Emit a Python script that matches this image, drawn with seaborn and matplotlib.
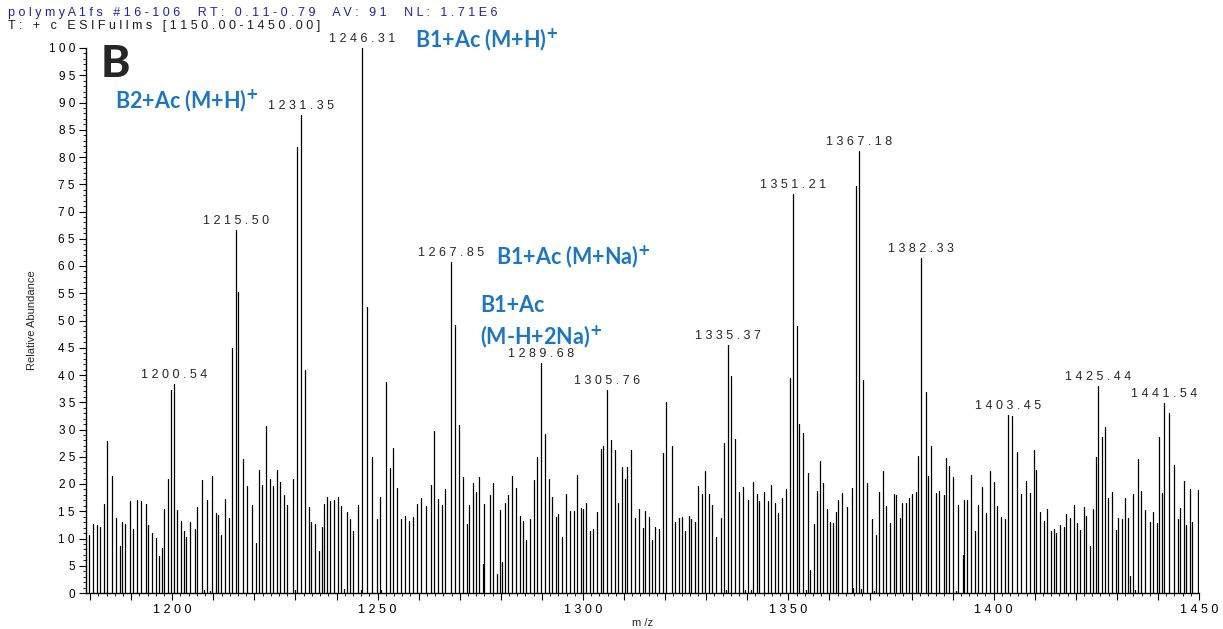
import numpy as np
import pandas as pd
import matplotlib
matplotlib.use("Agg")
import matplotlib.pyplot as plt
import seaborn as sns
from matplotlib.ticker import FixedLocator, MultipleLocator

# stick spectrum: m/z and relative abundance
mz = [
    1179.7, 1180.8, 1181.7, 1182.5, 1183.4, 1184.1, 1185.3, 1186.2, 1187.2, 1187.7,
    1188.6, 1189.6, 1190.5, 1191.4, 1192.4, 1193.5, 1194.2, 1195.0, 1196.0, 1196.7,
    1197.6, 1198.1, 1199.0, 1199.7, 1200.54, 1201.2, 1202.1, 1202.8, 1203.3, 1204.3,
    1205.5, 1206.1, 1207.3, 1207.8, 1208.5, 1209.1, 1209.7, 1210.7, 1211.2, 1211.9,
    1212.9, 1213.9, 1214.6, 1215.50, 1216.1, 1217.3, 1218.3, 1219.5, 1220.4, 1221.1,
    1221.9, 1222.8, 1223.7, 1224.6, 1225.4, 1226.3, 1227.1, 1228.0, 1229.3, 1229.8,
    1230.4, 1231.35, 1232.3, 1233.2, 1233.9, 1234.8, 1235.8, 1236.4, 1237.0, 1237.6,
    1238.4, 1239.4, 1240.3, 1241.2, 1241.9, 1242.5, 1243.3, 1244.0, 1245.2,
    1245.9, 1246.31, 1247.4, 1248.6, 1249.8, 1250.6, 1250.9, 1252.0, 1253.1, 1253.7,
    1254.7, 1255.7, 1256.7, 1257.7, 1258.6, 1259.6, 1260.5, 1261.7, 1262.9, 1263.7,
    1264.7, 1265.7, 1266.5, 1267.85, 1268.8, 1269.9, 1270.8, 1271.8, 1272.3, 1273.2,
    1273.9, 1274.8, 1275.7, 1276.0, 1277.3, 1278.2,
    1279.1, 1279.7, 1280.4, 1280.9, 1281.8, 1282.7, 1283.7, 1284.6, 1285.4, 1286.1,
    1287.0, 1288.0, 1288.8, 1289.68, 1290.7, 1291.7, 1292.5, 1293.4, 1294.0, 1295.0,
    1295.9, 1296.9, 1297.7, 1298.6, 1299.5, 1300.1, 1300.8, 1301.6, 1302.5, 1303.4,
    1304.4, 1305.0, 1305.76, 1306.8, 1307.7, 1308.6, 1309.6, 1310.2, 1310.8,
    1311.7, 1312.7, 1313.6, 1314.5, 1315.1, 1316.0, 1316.9, 1317.6, 1318.5, 1319.4,
    1320.3, 1321.6, 1322.4, 1323.3, 1324.2, 1324.9, 1325.8, 1326.4, 1327.3, 1328.0,
    1328.9, 1329.8, 1330.7, 1331.5, 1332.5, 1333.5, 1334.4, 1334.8, 1335.37, 1336.1,
    1337.1, 1338.0, 1338.9, 1339.5, 1340.2, 1340.8, 1341.4, 1342.3, 1342.9, 1344.1,
    1345.0, 1345.9, 1346.8, 1347.5, 1348.4, 1349.5, 1350.4, 1351.21, 1352.0, 1352.7,
    1353.6, 1354.2, 1354.8, 1355.3, 1356.3, 1356.9, 1357.8, 1358.5, 1359.4, 1360.2,
    1360.9, 1361.5, 1362.2, 1363.0, 1364.2, 1365.5, 1365.8, 1366.47, 1367.18, 1367.8,
    1368.3, 1369.2, 1370.4, 1370.8, 1371.3, 1372.2, 1373.1, 1373.7, 1374.7, 1375.7,
    1376.2, 1377.1,
    1377.8, 1378.6, 1379.4, 1380.1, 1381.1, 1381.6, 1382.33, 1383.5, 1384.1, 1384.8,
    1385.9, 1386.8, 1387.8, 1388.4, 1389.2, 1390.2, 1390.9, 1391.4, 1392.6, 1392.9,
    1393.6, 1394.5, 1395.4, 1396.3, 1397.2, 1398.1, 1399.1, 1400.0, 1400.9, 1401.8,
    1402.7, 1403.45, 1404.4, 1405.8, 1406.7, 1407.8, 1408.9, 1409.8,
    1410.4, 1411.3, 1412.2, 1413.1, 1414.0, 1414.6, 1415.2, 1416.2, 1417.1, 1417.7,
    1418.6, 1419.5, 1420.4, 1421.1, 1422.0, 1422.6, 1423.5, 1424.2, 1424.8, 1425.44,
    1426.3, 1427.2, 1427.8, 1428.7, 1429.7, 1430.3, 1431.2, 1432.0, 1432.6, 1433.3,
    1433.9, 1434.4, 1435.1, 1435.9, 1436.9, 1438.1, 1438.7, 1439.7, 1440.2, 1440.9,
    1441.54, 1442.7, 1443.9, 1444.9, 1445.4, 1446.4, 1446.9, 1447.9, 1448.4, 1449.7,
]
abundance = [
    10.6, 12.7, 12.5, 12.2, 16.4, 27.8, 21.4, 13.7, 8.7, 13.1,
    12.7, 16.8, 11.8, 17.0, 16.8, 16.4, 12.4, 11.0, 10.1, 6.7,
    8.3, 15.5, 21.0, 37.3, 38.4, 15.3, 13.2, 11.3, 10.3, 13.0,
    11.7, 15.7, 20.8, 0.6, 17.1, 0.4, 21.5, 14.7, 14.3, 10.6,
    17.2, 13.8, 45.0, 66.6, 55.2, 24.5, 19.7, 16.2, 9.1, 22.6,
    19.8, 30.6, 20.9, 19.6, 22.6, 20.4, 17.9, 16.2, 21.0, 0.6,
    81.8, 87.7, 40.9, 15.7, 13.1, 12.7, 7.7, 12.1, 16.4, 17.6,
    16.9, 17.1, 17.7, 15.9, 0.8, 14.9, 13.5, 11.4, 16.2,
    0.6, 100.0, 52.5, 25.0, 13.6, 17.7, 0.6, 38.7, 22.9, 26.6,
    19.3, 13.5, 14.1, 13.3, 13.9, 16.4, 17.5, 16.0, 19.9, 29.7,
    17.2, 16.2, 19.1, 60.7, 49.2, 30.9, 21.2, 12.7, 16.1, 20.2,
    18.5, 21.3, 5.4, 16.4, 18.0, 20.1,
    3.4, 15.3, 5.7, 16.6, 17.9, 21.5, 19.2, 14.2, 13.3, 9.7,
    13.5, 20.8, 25.0, 42.2, 29.2, 21.0, 17.7, 13.9, 14.5, 10.3,
    18.2, 15.0, 15.0, 21.7, 15.6, 15.5, 16.6, 11.4, 11.7, 14.9,
    26.5, 27.0, 37.3, 28.1, 26.2, 16.6, 23.1, 21.0, 23.2,
    26.2, 13.7, 15.5, 12.0, 15.0, 14.0, 9.8, 12.2, 11.8, 25.6,
    35.1, 27.0, 13.1, 13.8, 14.0, 11.3, 14.2, 13.5, 13.0, 19.7,
    18.2, 22.4, 18.1, 16.1, 10.3, 13.8, 27.6, 0.5, 45.5, 39.9,
    28.3, 18.5, 19.4, 0.6, 17.1, 0.6, 20.4, 18.2, 16.8, 18.6,
    16.9, 19.8, 16.5, 14.7, 17.5, 19.1, 39.4, 73.2, 49.0, 31.0,
    29.3, 0.5, 22.0, 4.3, 12.7, 18.8, 24.3, 20.2, 15.5, 13.0,
    12.8, 14.9, 17.1, 18.3, 15.7, 19.3, 1.0, 74.7, 81.1, 0.7,
    39.1, 20.1, 13.6, 0.3, 10.7, 18.5, 22.4, 16.0, 12.9, 18.2,
    17.9, 13.7,
    16.5, 16.5, 17.5, 18.1, 18.6, 25.2, 61.5, 36.9, 21.5, 26.9,
    18.3, 18.8, 18.0, 24.8, 23.3, 21.3, 0.4, 16.2, 6.9, 17.0,
    17.0, 21.7, 11.4, 16.2, 19.4, 14.7, 22.4, 20.4, 16.0, 14.0,
    13.5, 32.7, 32.4, 25.9, 18.1, 20.5, 18.4, 26.2,
    22.6, 14.8, 13.3, 15.5, 11.3, 11.7, 11.1, 12.4, 12.1, 14.5,
    13.7, 16.2, 12.9, 11.6, 15.7, 14.2, 8.7, 15.5, 25.0, 38.0,
    28.7, 30.5, 17.4, 18.6, 11.6, 13.8, 13.6, 17.4, 13.8, 3.2,
    18.1, 0.5, 24.5, 18.8, 15.3, 13.1, 14.8, 12.8, 28.7, 18.3,
    34.9, 33.1, 23.4, 13.6, 15.6, 20.6, 12.4, 19.0, 13.0, 18.9,
]

# peaks that carry their m/z label
peak_labels = ["1200.54", "1215.50", "1231.35", "1246.31", "1267.85", "1289.68",
               "1305.76", "1335.37", "1351.21", "1367.18", "1382.33", "1403.45",
               "1425.44", "1441.54"]

header_1 = "polymyA1fs #16-106  RT: 0.11-0.79  AV: 91  NL: 1.71E6"
header_2 = "T: + c ESIFullms [1150.00-1450.00]"

BLUE = "#1c77c3"
W, H = 1223, 629


def spaced(s):
    return " ".join(s)


sns.set_style("ticks")
plt.rcParams["font.family"] = ["Liberation Sans", "DejaVu Sans"]

# long table: every stick is a unit with a point at 0 and one at its top
sticks = pd.DataFrame({
    "peak": np.repeat(np.arange(len(mz)), 2),
    "mz": np.repeat(mz, 2),
    "abundance": np.column_stack([np.zeros(len(abundance)), abundance]).ravel(),
})

fig = plt.figure(figsize=(W / 100, H / 100), dpi=100)
ax = fig.add_axes([86 / W, 36 / H, 1113 / W, 545 / H])

sns.lineplot(data=sticks, x="mz", y="abundance", units="peak", estimator=None,
             color="black", lw=0.9, legend=False, ax=ax)

ax.set_xlim(1179, 1450)
ax.set_ylim(0, 100)
sns.despine(ax=ax)
for side in ("left", "bottom"):
    ax.spines[side].set_linewidth(1.0)
    ax.spines[side].set_color("black")

yt = list(range(0, 101, 5))
ax.yaxis.set_major_locator(FixedLocator(yt))
ax.set_yticklabels([spaced(str(v)) for v in yt])
ax.yaxis.set_minor_locator(MultipleLocator(1))

xt = list(range(1180, 1451, 10))
ax.xaxis.set_major_locator(FixedLocator(xt))
ax.set_xticklabels([spaced(str(v)) if v % 50 == 0 else "" for v in xt])
ax.xaxis.set_minor_locator(MultipleLocator(2))

ax.tick_params(which="major", length=5, width=0.8, labelsize=8.5, pad=3, colors="black")
ax.tick_params(which="minor", length=2.5, width=0.6, colors="black")
ax.tick_params(axis="x", labelsize=9)

ax.set_xlabel("m /z", fontsize=8, labelpad=1)
ax.set_ylabel("Relative Abundance", fontsize=8, labelpad=8)

for lab in peak_labels:
    i = mz.index(float(lab))
    ax.annotate(spaced(lab), xy=(mz[i], abundance[i]), xytext=(0, 2),
                textcoords="offset points", ha="center", va="bottom", fontsize=9)

fig.text(8 / W, 1 - 13 / H, spaced(header_1), color="#22229c", fontsize=9, va="center")
fig.text(8 / W, 1 - 26 / H, spaced(header_2), color="#1a1a1a", fontsize=9, va="center")

fig.text(101 / W, 1 - 64 / H, "B", fontsize=32, fontweight="black", family="Lato", va="center")

note = dict(color=BLUE, fontsize=15.5, fontweight="bold", family="Lato", va="center")
fig.text(415 / W, 1 - 40 / H, r"B1+Ac (M+H)$^{\mathbf{+}}$", **note)
fig.text(115 / W, 1 - 101 / H, r"B2+Ac (M+H)$^{\mathbf{+}}$", **note)
fig.text(496 / W, 1 - 257 / H, r"B1+Ac (M+Na)$^{\mathbf{+}}$", **note)
fig.text(480 / W, 1 - 306 / H, "B1+Ac", **note)
fig.text(480 / W, 1 - 337 / H, r"(M-H+2Na)$^{\mathbf{+}}$", **note)

fig.savefig("out.png", dpi=100)
